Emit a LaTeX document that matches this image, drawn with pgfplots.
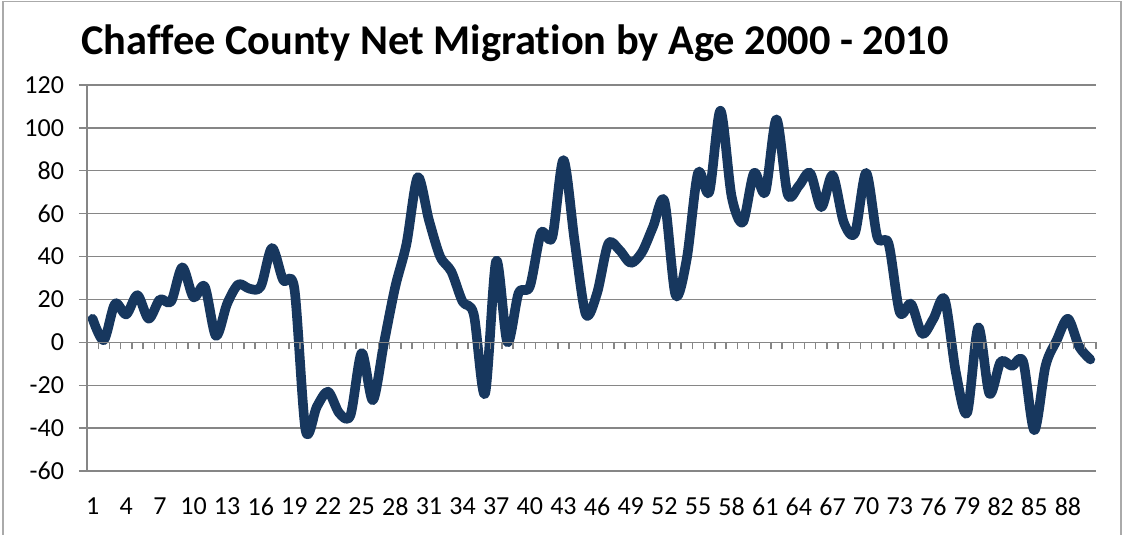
\documentclass[border=0pt]{standalone}
\usepackage{fontspec}
\setmainfont{Carlito}[Ligatures=NoCommon]
\usepackage{pgfplots}
\pgfplotsset{compat=1.18}
\definecolor{navy}{HTML}{17375E}
\definecolor{gridgray}{HTML}{868686}

\pgfplotstableread{
age net
1 11
2 1
3 18
4 13
5 22
6 11
7 20
8 19
9 35
10 21
11 26
12 3
13 18
14 27
15 25
16 26
17 44
18 29
19 25
20 -41
21 -30
22 -23
23 -33
24 -34
25 -5
26 -27
27 0
28 26
29 46
30 77
31 57
32 40
33 33
34 19
35 13
36 -24
37 38
38 0
39 23
40 26
41 51
42 49
43 85
44 47
45 13
46 23
47 46
48 43
49 37
50 42
51 54
52 66
53 22
54 39
55 79
56 70
57 108
58 68
59 56
60 79
61 70
62 104
63 69
64 73
65 79
66 63
67 78
68 56
69 51
70 79
71 49
72 46
73 14
74 18
75 4
76 11
77 20
78 -14
79 -33
80 7
81 -24
82 -9
83 -11
84 -9
85 -41
86 -11
87 1
88 11
89 -2
90 -8
}\migration

\begin{document}
\begin{tikzpicture}
\path[use as bounding box] (0,0) rectangle (562pt,267.5pt);
% chart frame
\draw[gridgray!70, line width=0.6pt] (1.5pt,-5pt) -- (1.5pt,266.8pt) -- (560.5pt,266.8pt) -- (560.5pt,-5pt);
\node[font=\bfseries\fontsize{21.2}{23}\selectfont, anchor=center] at (257.5pt,246pt)
  {Chaffee County Net Migration by Age 2000 - 2010};

% main axis
\begin{axis}[
  at={(43.5pt,32pt)}, anchor=south west,
  scale only axis,
  width=504.5pt, height=193pt,
  xmin=0.5, xmax=90.5,
  ymin=-60, ymax=120,
  ytick={-60,-40,...,120},
  xtick={1,4,...,88},
  axis lines*=left,
  x axis line style={draw=none},
  y axis line style={gridgray, line width=0.7pt},
  major x tick style={draw=none},
  ytick style={gridgray, line width=0.7pt},
  tick align=outside,
  major tick length=4pt,
  ymajorgrids=true,
  grid style={gridgray, line width=0.7pt},
  ticklabel style={font=\fontsize{13}{15}\selectfont},
  yticklabel style={xshift=-4pt},
  xticklabel style={yshift=-6pt},
  /pgf/number format/assume math mode=true,
  clip=false,
]
\addplot[navy, line width=4.8pt, smooth, tension=0.5, line cap=round, line join=round] table[x=age, y=net] {\migration};
\end{axis}

% zero line with category separators
\begin{axis}[
  at={(43.5pt,32pt)}, anchor=south west,
  scale only axis,
  width=504.5pt, height=193pt,
  xmin=0.5, xmax=90.5,
  ymin=-60, ymax=120,
  axis x line=middle,
  axis y line=none,
  x axis line style={gridgray, line width=0.7pt, -},
  xtick={0.5,1.5,...,90.5},
  xticklabels={},
  ytick=\empty,
  tick align=outside,
  major tick length=3.5pt,
  xtick style={gridgray, line width=0.7pt},
]
\end{axis}
\end{tikzpicture}
\end{document}
